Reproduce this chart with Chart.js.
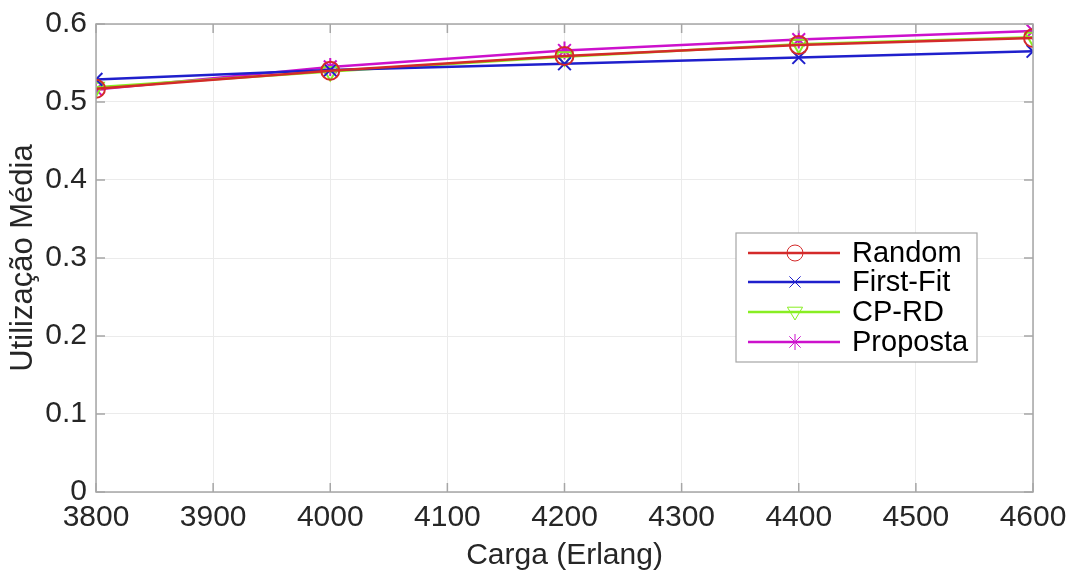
<!DOCTYPE html>
<html>
<head>
<meta charset="utf-8">
<script src="https://cdn.jsdelivr.net/npm/chart.js@4.4.0/dist/chart.umd.min.js"></script>
<style>
  html, body { margin: 0; padding: 0; background: #ffffff; }
  #wrap { width: 1068px; height: 574px; }
</style>
</head>
<body>
<div id="wrap"><canvas id="chart" width="1068" height="574"></canvas></div>
<script>
// Chart data
const cargas = [3800, 4000, 4200, 4400, 4600];
const randomVals = [0.517, 0.540, 0.559, 0.573, 0.582];
const firstFitVals = [0.529, 0.541, 0.549, 0.557, 0.565];
const cpRdVals = [0.519, 0.539, 0.558, 0.574, 0.583];
const propostaVals = [0.516, 0.545, 0.566, 0.580, 0.591];
const xTicks = [3800, 3900, 4000, 4100, 4200, 4300, 4400, 4500, 4600];
const yTicks = [0, 0.1, 0.2, 0.3, 0.4, 0.5, 0.6];

const FONT = "'Liberation Sans', Arial, Helvetica, sans-serif";
const TEXT = "#262626";

function toPoints(vals) {
    return cargas.map((c, i) => ({ x: c, y: vals[i] }));
}

function makeSeries(label, vals, color, style, rotation) {
    return {
        label: label,
        data: toPoints(vals),
        borderColor: color,
        backgroundColor: "rgba(0,0,0,0)",
        borderWidth: 2.5,
        pointStyle: style,
        rotation: rotation || 0,
        pointRadius: 9,
        pointBorderWidth: 2,
        pointBorderColor: color,
        pointBackgroundColor: "rgba(0,0,0,0)",
        tension: 0
    };
}

const datasets = [
    makeSeries("Random", randomVals, "#d42a2a", "circle"),
    makeSeries("First-Fit", firstFitVals, "#1f1fcc", "crossRot"),
    makeSeries("CP-RD", cpRdVals, "#88ee22", "triangle", 180),
    makeSeries("Proposta", propostaVals, "#cc11cc", "star")
];

// Draw a marker by hand for the legend
function drawMarker(ctx, style, x, y, r, rot) {
    ctx.beginPath();
    if (style === "circle") {
        ctx.arc(x, y, r, 0, Math.PI * 2);
    } else if (style === "crossRot") {
        const d = r * 0.7;
        ctx.moveTo(x - d, y - d); ctx.lineTo(x + d, y + d);
        ctx.moveTo(x + d, y - d); ctx.lineTo(x - d, y + d);
    } else if (style === "triangle") {
        const s = rot === 180 ? -1 : 1;
        ctx.moveTo(x, y - s * r);
        ctx.lineTo(x - r * 0.95, y + s * r * 0.6);
        ctx.lineTo(x + r * 0.95, y + s * r * 0.6);
        ctx.closePath();
    } else if (style === "star") {
        for (let k = 0; k < 4; k++) {
            const a = k * Math.PI / 4;
            ctx.moveTo(x - r * Math.cos(a), y - r * Math.sin(a));
            ctx.lineTo(x + r * Math.cos(a), y + r * Math.sin(a));
        }
    }
    ctx.stroke();
}

// Box, inward ticks and legend like MATLAB
const matlabPlugin = {
    id: "matlabBox",
    afterDatasetsDraw(chart) {
        const ctx = chart.ctx;
        const a = chart.chartArea;
        const xs = chart.scales.x, ys = chart.scales.y;
        ctx.save();
        ctx.strokeStyle = "#a6a6a6";
        ctx.lineWidth = 1.5;
        ctx.strokeRect(a.left, a.top, a.right - a.left, a.bottom - a.top);
        ctx.beginPath();
        xTicks.forEach(t => {
            const px = xs.getPixelForValue(t);
            ctx.moveTo(px, a.bottom); ctx.lineTo(px, a.bottom - 9);
            ctx.moveTo(px, a.top); ctx.lineTo(px, a.top + 9);
        });
        yTicks.forEach(t => {
            const py = ys.getPixelForValue(t);
            ctx.moveTo(a.left, py); ctx.lineTo(a.left + 9, py);
            ctx.moveTo(a.right, py); ctx.lineTo(a.right - 9, py);
        });
        ctx.stroke();

        // legend
        const lx = 736, ly = 233, lw = 241, lh = 129;
        ctx.fillStyle = "#ffffff";
        ctx.fillRect(lx, ly, lw, lh);
        ctx.strokeStyle = "#a6a6a6";
        ctx.lineWidth = 1.2;
        ctx.strokeRect(lx, ly, lw, lh);
        const rows = [253, 282, 312, 342];
        ctx.font = "29px " + FONT;
        ctx.textBaseline = "middle";
        chart.data.datasets.forEach((ds, i) => {
            const y = rows[i];
            ctx.strokeStyle = ds.borderColor;
            ctx.lineWidth = 2.5;
            ctx.beginPath();
            ctx.moveTo(748, y); ctx.lineTo(840, y);
            ctx.stroke();
            ctx.lineWidth = 1;
            drawMarker(ctx, ds.pointStyle, 795, y, 8, ds.rotation);
            ctx.fillStyle = "#000000";
            ctx.fillText(ds.label, 852, y + 1);
        });
        ctx.restore();
    }
};

new Chart(document.getElementById("chart"), {
    type: "line",
    data: { datasets: datasets },
    options: {
        responsive: false,
        animation: false,
        layout: { padding: { top: 24, right: 35, left: 0, bottom: 0 } },
        plugins: { legend: { display: false }, tooltip: { enabled: false } },
        scales: {
            x: {
                type: "linear",
                min: 3800, max: 4600,
                afterBuildTicks: s => { s.ticks = xTicks.map(v => ({ value: v })); },
                afterFit: s => { s.height = 82; s.paddingLeft = 0; s.paddingRight = 0; },
                grid: { color: "#ebebeb", lineWidth: 1, drawTicks: false },
                border: { display: false },
                ticks: { color: TEXT, font: { family: FONT, size: 30 }, padding: 8, maxRotation: 0, callback: v => String(v) },
                title: { display: true, text: "Carga (Erlang)", color: TEXT, font: { family: FONT, size: 30 }, padding: { top: 0, bottom: 0 } }
            },
            y: {
                min: 0, max: 0.6,
                afterBuildTicks: s => { s.ticks = yTicks.map(v => ({ value: v })); },
                afterFit: s => { s.width = 96; s.paddingTop = 0; s.paddingBottom = 0; },
                grid: { color: "#ebebeb", lineWidth: 1, drawTicks: false },
                border: { display: false },
                ticks: {
                    color: TEXT, font: { family: FONT, size: 30 }, padding: 9,
                    callback: v => v === 0 ? "0" : v.toFixed(1)
                },
                title: { display: true, text: "Utilização Média", color: TEXT, font: { family: FONT, size: 31 }, padding: { top: 5, bottom: 0 } }
            }
        }
    },
    plugins: [matlabPlugin]
});
</script>
</body>
</html>
